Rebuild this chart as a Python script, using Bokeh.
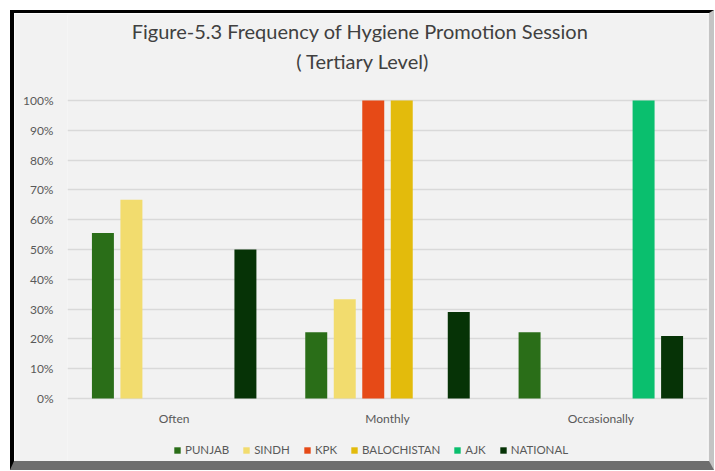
from bokeh.plotting import figure
from bokeh.models import (ColumnDataSource, FactorRange, Range1d, FixedTicker,
                          NumeralTickFormatter, Legend, LegendItem, Label)
from bokeh.core.properties import value
from bokeh.transform import dodge
from bokeh.embed import file_html
from bokeh.resources import INLINE

categories = ["Often", "Monthly", "Occasionally"]
series = ["PUNJAB", "SINDH", "KPK", "BALOCHISTAN", "AJK", "NATIONAL"]
punjab = [0.555, 0.222, 0.222]
sindh = [0.667, 0.333, 0.0]
kpk = [0.0, 1.0, 0.0]
balochistan = [0.0, 1.0, 0.0]
ajk = [0.0, 0.0, 1.0]
national = [0.50, 0.29, 0.21]
y_ticks = [0, 0.1, 0.2, 0.3, 0.4, 0.5, 0.6, 0.7, 0.8, 0.9, 1.0]
colors = ["#2a6e18", "#f2dc6e", "#e64a17", "#e3bb0c", "#0abf6e", "#063306"]
title1 = "Figure-5.3  Frequency of Hygiene Promotion Session"
title2 = "( Tertiary Level)"

values = [punjab, sindh, kpk, balochistan, ajk, national]
data = {"cat": categories}
for name, vals in zip(series, values):
    data[name] = vals
source = ColumnDataSource(data)

FONT = "Lato"
TXT = "#595959"
BG = "#f2f2f2"

p = figure(width=704, height=460, x_range=FactorRange(*categories, range_padding=0),
           y_range=Range1d(-0.2114, 1.2886), output_backend="svg", toolbar_location=None,
           min_border_left=53, min_border_top=1, min_border_bottom=12, min_border_right=11)
p.styles = {"margin-left": "10px", "margin-top": "10px",
            "border-top": "3px solid #000000", "border-left": "4px solid #000000",
            "border-bottom": "9px solid #6e6e6e", "border-right": "5px solid #c4c4c4"}
p.background_fill_color = BG
p.border_fill_color = BG
p.outline_line_color = None

step = 0.1336
bw = 0.103
items = []
for i, (name, col) in enumerate(zip(series, colors)):
    r = p.vbar(x=dodge("cat", (i - 2.5) * step, range=p.x_range), top=name, width=bw,
               source=source, fill_color=col, line_color=None)
    items.append(LegendItem(label=name, renderers=[r]))

# category labels under the 0% line
p.text(x="cat", y=-0.067, text="cat", source=source, text_align="center",
       text_baseline="middle", text_font=value(FONT), text_font_size="12px",
       text_color=TXT)

p.xaxis.visible = False
p.yaxis.ticker = FixedTicker(ticks=y_ticks)
p.yaxis.formatter = NumeralTickFormatter(format="0%")
p.yaxis.axis_line_color = None
p.yaxis.major_tick_line_color = None
p.yaxis.minor_tick_line_color = None
p.yaxis.major_label_standoff = 8
p.yaxis.major_label_text_font = FONT
p.yaxis.major_label_text_font_size = "12px"
p.yaxis.major_label_text_color = TXT
p.xgrid.grid_line_color = None
p.ygrid.grid_line_color = "#d9d9d9"
p.ygrid.grid_line_width = 1.5

legend = Legend(items=items, orientation="horizontal", location=(106, 5),
                label_text_font=FONT, label_text_font_size="11.5px", label_text_color=TXT,
                glyph_width=8, glyph_height=8, label_standoff=4, spacing=13,
                padding=0, margin=0, background_fill_alpha=0, border_line_color=None,
                label_height=12)
p.add_layout(legend, "center")

p.add_layout(Label(x=1.384, y=1.2326, text=title1, text_align="center", text_baseline="middle",
                   text_font=FONT, text_font_size="20px", text_color="#404040"))
p.add_layout(Label(x=1.384, y=1.134, text=title2, text_align="center", text_baseline="middle",
                   text_font=FONT, text_font_size="20px", text_color="#404040"))

open("out.html", "w").write(file_html(p, INLINE))
